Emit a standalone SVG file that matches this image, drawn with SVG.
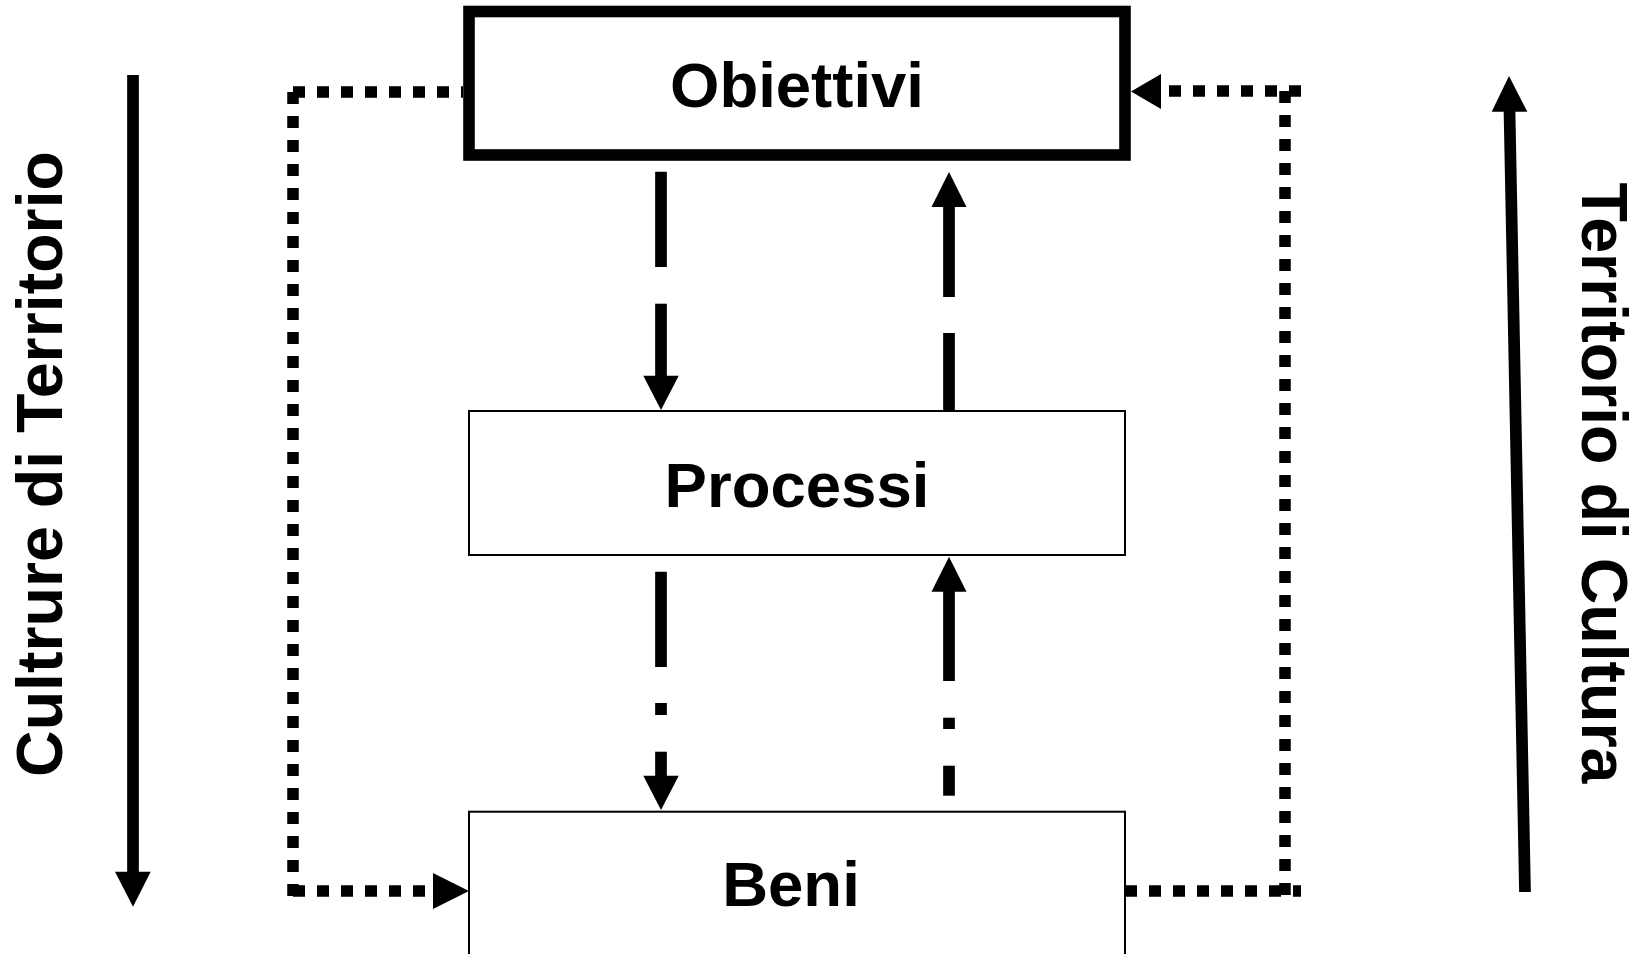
<svg xmlns="http://www.w3.org/2000/svg" width="1644" height="954" viewBox="0 0 1644 954">
<style>
.lbl{font-family:"Liberation Sans",Arial,sans-serif;font-weight:bold;font-size:63.5px;fill:#000;text-anchor:middle}
.side{font-size:64.5px}
.box{fill:#fff;stroke:#000}
.dot{stroke:#000;stroke-width:11.5;stroke-dasharray:12 12;fill:none}
.solid{stroke:#000;stroke-width:11.7;fill:none}
.head{fill:#000}
</style>
<rect width="1644" height="954" fill="#fff"/>
<g id="node-obiettivi">
<rect class="box" x="469" y="11.5" width="656" height="143.5" stroke-width="11.6"/>
<text class="lbl" x="797" y="107">Obiettivi</text>
</g>
<g id="node-processi">
<rect class="box" x="469" y="411" width="656" height="144" stroke-width="2"/>
<text class="lbl" x="797" y="507">Processi</text>
</g>
<g id="node-beni">
<rect class="box" x="469" y="811.7" width="656" height="144" stroke-width="2"/>
<text class="lbl" x="791" y="906">Beni</text>
</g>
<g id="connectors">
<line class="dot" x1="293" y1="92" x2="463" y2="92"/>
<line class="dot" x1="293" y1="92" x2="293" y2="897"/>
<line class="dot" x1="293" y1="891" x2="433" y2="891"/>
<polygon class="head" points="433,873 433,909 469,891"/>
<line class="dot" x1="1125" y1="891" x2="1301" y2="891"/>
<line class="dot" x1="1285" y1="895" x2="1285" y2="85"/>
<line class="dot" x1="1301" y1="91" x2="1161" y2="91"/>
<polygon class="head" points="1161,74 1161,109 1131,91.5"/>
<line class="solid" x1="661" y1="171.7" x2="661" y2="267"/>
<line class="solid" x1="661" y1="303.7" x2="661" y2="376"/>
<polygon class="head" points="643.3,375.7 678.7,375.7 661,410"/>
<line class="solid" x1="949" y1="206" x2="949" y2="297"/>
<line class="solid" x1="949" y1="333" x2="949" y2="411"/>
<polygon class="head" points="931.5,207 966.5,207 949,172"/>
<line class="solid" x1="661" y1="571.7" x2="661" y2="667"/>
<line class="solid" x1="661" y1="703" x2="661" y2="715"/>
<line class="solid" x1="661" y1="751.7" x2="661" y2="776"/>
<polygon class="head" points="643.3,775.7 678.7,775.7 661,810"/>
<line class="solid" x1="949" y1="591" x2="949" y2="681"/>
<line class="solid" x1="949" y1="717.7" x2="949" y2="729"/>
<line class="solid" x1="949" y1="765.7" x2="949" y2="795.7"/>
<polygon class="head" points="931.5,591.7 966.5,591.7 949,556.7"/>
<line class="solid" x1="133" y1="75" x2="133" y2="872.5" stroke-width="11"/>
<polygon class="head" points="115,871.7 150.7,871.7 133,906.7"/>
<line class="solid" x1="1509.5" y1="111" x2="1525" y2="892"/>
<polygon class="head" points="1491.7,111.7 1527.3,111.7 1509,76"/>
</g>
<g id="side-labels">
<text class="lbl side" transform="translate(61.5,464) rotate(-90)">Cultrure di Territorio</text>
<text class="lbl side" transform="translate(1581.5,483) rotate(90)">Territorio di Cultura</text>
</g>
</svg>
